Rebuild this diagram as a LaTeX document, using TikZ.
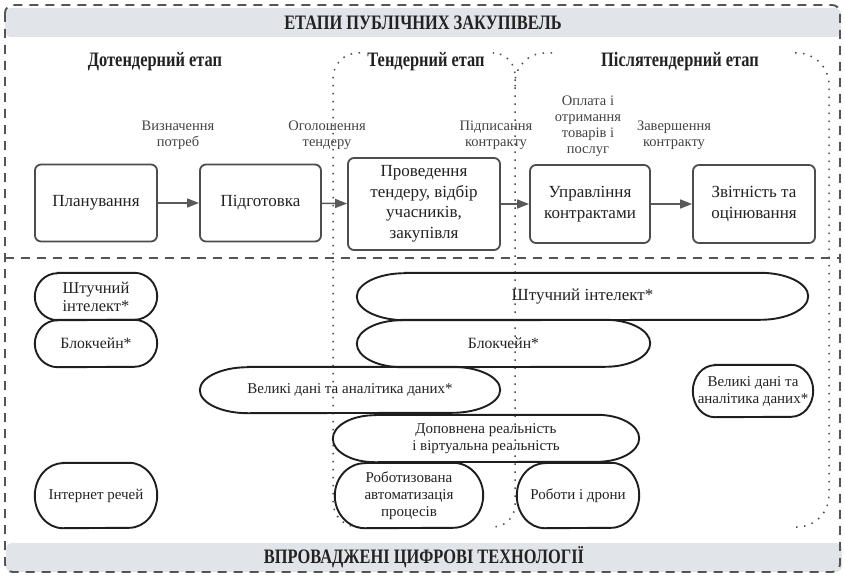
\documentclass[tikz,border=0pt]{standalone}
\usepackage{fontspec}
\setmainfont{Liberation Serif}
\newfontfamily\condfont{Liberation Serif}[FakeStretch=0.8]
\usetikzlibrary{arrows.meta}
\definecolor{boxgray}{HTML}{4D4D4D}
\definecolor{capcol}{HTML}{1E1E1E}
\definecolor{arrgray}{HTML}{5A5A5A}
\definecolor{dashgray}{HTML}{555555}
\definecolor{dotgray}{HTML}{4A4A4A}
\definecolor{bandfill}{HTML}{E1E4E8}
\definecolor{txt}{HTML}{222222}
\tikzset{
  stagebox/.style={draw=boxgray, line width=1.8pt, rounded corners=6pt, fill=white, align=center,
    text=txt, inner sep=2pt, font=\fontsize{17}{20.5}\selectfont},
  steplabel/.style={align=center, text=txt!85!white, inner sep=0pt, font=\fontsize{14.5}{16}\selectfont},
  stagetitle/.style={text=txt, inner sep=0pt, font=\condfont\bfseries\fontsize{20.5}{22}\selectfont},
  bandbox/.style={fill=bandfill, draw=none, rounded corners=6pt, inner sep=0pt, text=txt,
    font=\condfont\bfseries\fontsize{20.5}{22}\selectfont},
  techbox/.style={draw=none, inner sep=0pt, align=center, text=txt, font=\fontsize{15}{17}\selectfont},
  capline/.style={draw=capcol, line width=1.9pt},
  flow/.style={draw=arrgray, line width=1.5pt, -{Triangle[length=12pt,width=9pt]}},
  outerdash/.style={draw=dashgray, line width=1.9pt, dash pattern=on 9pt off 7pt},
  regiondots/.style={draw=dotgray, line width=1.5pt, dash pattern=on 1.5pt off 6.5pt},
}
% capsule outline around a named node: #1 name, #2 end x-radius, #3 end y-radius
\newcommand{\capsule}[3]{%
  \draw[capline] ([xshift=#2pt]#1.north west) -- ([xshift=-#2pt]#1.north east)
    arc[start angle=90, end angle=-90, x radius=#2pt, y radius=#3pt]
    -- ([xshift=#2pt]#1.south west)
    arc[start angle=270, end angle=90, x radius=#2pt, y radius=#3pt] -- cycle;}
\begin{document}
\begin{tikzpicture}[x=1pt, y=-1pt]
\useasboundingbox (0,0) rectangle (845,575);

% bands
\node[bandbox, minimum width=836pt, minimum height=29pt] (hdr) at (423,22.5) {ЕТАПИ ПУБЛІЧНИХ ЗАКУПІВЕЛЬ};
\node[bandbox, minimum width=836pt, minimum height=29pt] (ftr) at (424,557.5) {ВПРОВАДЖЕНІ ЦИФРОВІ ТЕХНОЛОГІЇ};

% outer dashed frame and middle divider
\draw[outerdash, rounded corners=8pt] (5,5) rectangle (840,572);
\coordinate (divL) at (5,258);
\coordinate (divR) at (840,258);
\draw[outerdash] (divL) -- (divR);

% dotted stage regions (sides and rounded corners only)
\draw[regiondots, rounded corners=25pt] (360,53) -- (333,53) -- (333,527) -- (360,527);
\draw[regiondots, rounded corners=22pt] (494,53) -- (515,53) -- (515,527) -- (493,527);
\draw[regiondots, rounded corners=30pt] (552,53) -- (515,53) -- (515,90);
\draw[regiondots, rounded corners=32pt] (795,53) -- (829,53) -- (829,527) -- (790,527);

% stage titles
\node[stagetitle] (t1) at (155,62) {Дотендерний етап};
\node[stagetitle] (t2) at (426,62) {Тендерний етап};
\node[stagetitle] (t3) at (680,62) {Післятендерний етап};

% process boxes
\node[stagebox, minimum width=122pt, minimum height=77pt] (plan) at (96,203) {Планування};
\node[stagebox, minimum width=121pt, minimum height=77pt] (prep) at (260.5,203) {Підготовка};
\node[stagebox, minimum width=152pt, minimum height=92pt] (tend) at (424,204) {Проведення\\тендеру, відбір\\учасників,\\закупівля};
\node[stagebox, minimum width=120pt, minimum height=78pt] (mgmt) at (590,204) {Управління\\контрактами};
\node[stagebox, minimum width=122pt, minimum height=78pt] (rep) at (754,204) {Звітність та\\оцінювання};

\draw[flow] (plan) -- (prep);
\draw[flow] (prep) -- (tend);
\draw[flow] (tend.east |- mgmt.west) -- (mgmt);
\draw[flow] (mgmt) -- (rep);

% step labels
\node[steplabel] (l1) at (178,135) {Визначення\\потреб};
\node[steplabel] (l2) at (327,135) {Оголошення\\тендеру};
\node[steplabel] (l3) at (496,135) {Підписання\\контракту};
\node[steplabel] (l4) at (588,126) {Оплата і\\отримання\\товарів і\\послуг};
\node[steplabel] (l5) at (674,135) {Завершення\\контракту};

% technologies
\node[techbox, minimum width=122pt, minimum height=47pt, font=\fontsize{16.5}{18}\selectfont] (ai1) at (96,296.5) {Штучний\\інтелект*};
\capsule{ai1}{23}{23.5}
\node[techbox, minimum width=122pt, minimum height=47pt, font=\fontsize{15.7}{18}\selectfont] (bc1) at (96,343.5) {Блокчейн*};
\capsule{bc1}{23}{23.5}
\node[techbox, minimum width=451pt, minimum height=47pt, font=\fontsize{17}{19}\selectfont] (ai2) at (582.5,296.5) {Штучний інтелект*};
\capsule{ai2}{48}{23.5}
\node[techbox, minimum width=293pt, minimum height=47pt, font=\fontsize{15.7}{18}\selectfont] (bc2) at (503.5,343.5) {Блокчейн*};
\capsule{bc2}{45}{23.5}
\node[techbox, minimum width=300pt, minimum height=46pt] (bd1) at (350,390) {Великі дані та аналітика даних*};
\capsule{bd1}{48}{23}
\node[techbox, minimum width=120pt, minimum height=52pt] (bd2) at (753,391) {Великі дані та\\аналітика даних*};
\capsule{bd2}{22}{26}
\node[techbox, minimum width=306pt, minimum height=47pt] (arvr) at (486,438.5) {Доповнена реальність\\і віртуальна реальність};
\capsule{arvr}{42}{23.5}
\node[techbox, minimum width=148pt, minimum height=65pt] (rpa) at (409,495.5) {Роботизована\\автоматизація\\процесів};
\capsule{rpa}{30}{32.5}
\node[techbox, minimum width=122pt, minimum height=65pt] (drone) at (578,495.5) {Роботи і дрони};
\capsule{drone}{28}{32.5}
\node[techbox, minimum width=122pt, minimum height=65pt] (iot) at (96,495.5) {Інтернет речей};
\capsule{iot}{28}{32.5}
\end{tikzpicture}
\end{document}
